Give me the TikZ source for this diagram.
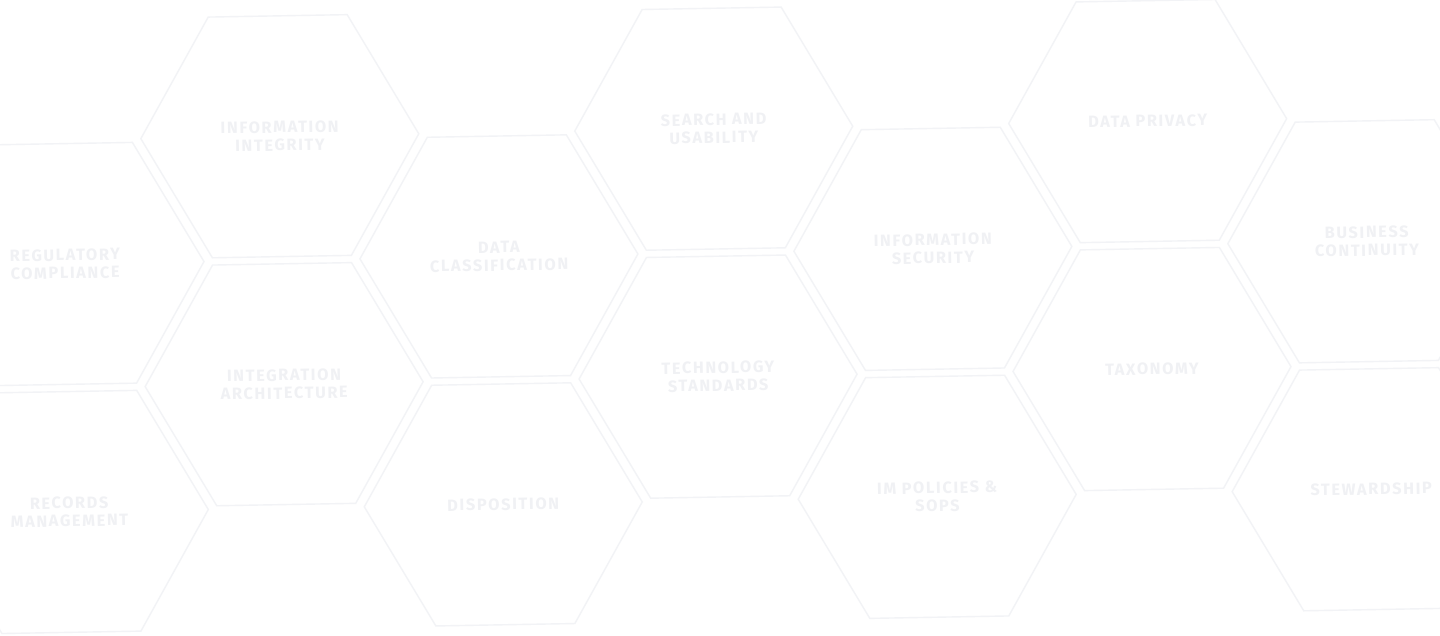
\documentclass[tikz,border=0pt]{standalone}
\usepackage{fontspec}
\usetikzlibrary{shapes.geometric}
\newfontfamily\hexfont[LetterSpace=10]{Fira Sans}
\definecolor{hexline}{RGB}{242,243,246}
\definecolor{hextext}{RGB}{240,241,244}

\begin{document}
\begin{tikzpicture}[x=1pt,y=1pt,
  hexcell/.style={regular polygon, regular polygon sides=6, minimum size=278pt,
    inner sep=0pt, draw=hexline, line width=1.4pt, text=hextext, align=center,
    font=\hexfont\bfseries\fontsize{16.3}{18}\selectfont}]
\useasboundingbox[fill=white] (-65,-372) rectangle (1375,264);
\begin{scope}[rotate=1, transform shape]
\node[hexcell] (regcomp) at (0,0) {REGULATORY\\COMPLIANCE};
\node[hexcell] (recmgmt) at (0,-248) {RECORDS\\MANAGEMENT};
\node[hexcell] (infoint) at (217,124) {INFORMATION\\INTEGRITY};
\node[hexcell] (integarch) at (217,-124) {INTEGRATION\\ARCHITECTURE};
\node[hexcell] (dataclass) at (434,0) {DATA\\CLASSIFICATION};
\node[hexcell] (dispos) at (434,-248) {DISPOSITION};
\node[hexcell] (search) at (651,124) {SEARCH AND\\USABILITY};
\node[hexcell] (techstd) at (651,-124) {TECHNOLOGY\\STANDARDS};
\node[hexcell] (infosec) at (868,0) {INFORMATION\\SECURITY};
\node[hexcell] (impol) at (868,-248) {IM POLICIES \&\\SOPS};
\node[hexcell] (privacy) at (1085,124) {DATA PRIVACY};
\node[hexcell] (taxonomy) at (1085,-124) {TAXONOMY};
\node[hexcell] (bizcont) at (1302,0) {BUSINESS\\CONTINUITY};
\node[hexcell] (steward) at (1302,-248) {STEWARDSHIP};
\end{scope}
\end{tikzpicture}
\end{document}
